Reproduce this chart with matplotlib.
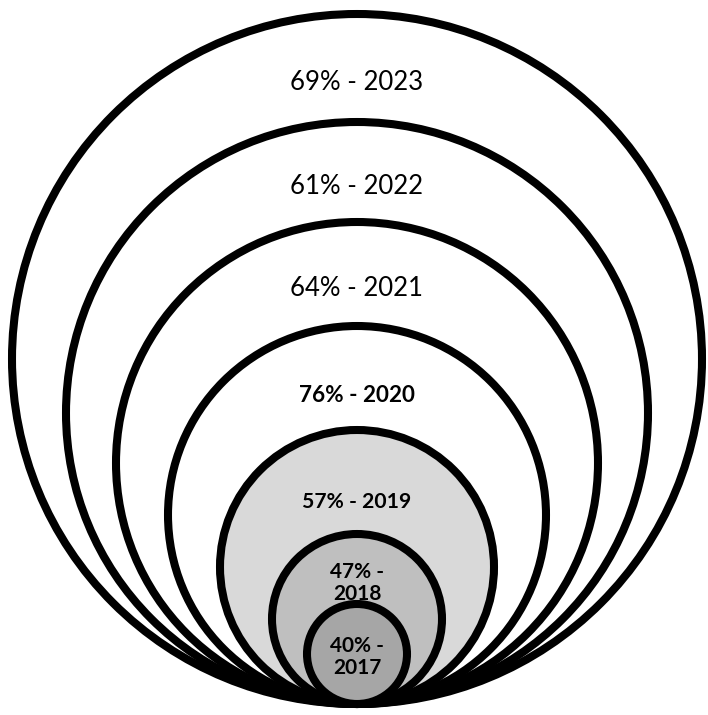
import numpy as np
import matplotlib
matplotlib.use("Agg")
import matplotlib.pyplot as plt
from matplotlib.patches import Circle

# datos
years = [2017, 2018, 2019, 2020, 2021, 2022, 2023]
pcts = [40, 47, 57, 76, 64, 61, 69]

# estilo / layout (pixeles de la imagen)
radios = [50, 85, 137, 189, 241, 291, 345]
rellenos = ["#a6a6a6", "#bfbfbf", "#d9d9d9", "white", "white", "white", "white"]
negrita = [True, True, True, True, False, False, False]
tam = [15, 15, 15.2, 16.2, 18.5, 18.5, 18.5]
partido = [True, True, False, False, False, False, False]
desp = [53, 49, 72, 70, 66, 65, 68]   # distancia del borde superior al texto
base_y = 704
cx = 357

fig = plt.figure(figsize=(7.08, 7.15), dpi=100)
ax = fig.add_axes([0, 0, 1, 1])
ax.set_xlim(0, 708)
ax.set_ylim(715, 0)
ax.set_aspect("equal")
ax.axis("off")

# de mayor a menor para que los pequeños queden encima
for i in range(len(years) - 1, -1, -1):
    r = radios[i]
    c = Circle((cx, base_y - r), r, facecolor=rellenos[i], edgecolor="black",
               linewidth=5.8, zorder=2 + (len(years) - i))
    ax.add_patch(c)

# etiquetas
for i in range(len(years)):
    top = base_y - 2 * radios[i]
    if partido[i]:
        txt = f"{pcts[i]}% -\n{years[i]}"
    else:
        txt = f"{pcts[i]}% - {years[i]}"
    ax.text(cx, top + desp[i], txt, ha="center", va="center", fontsize=tam[i],
            fontweight="bold" if negrita[i] else "normal", family="Lato",
            linespacing=1.1, zorder=20)

fig.savefig("out.png", dpi=100)
